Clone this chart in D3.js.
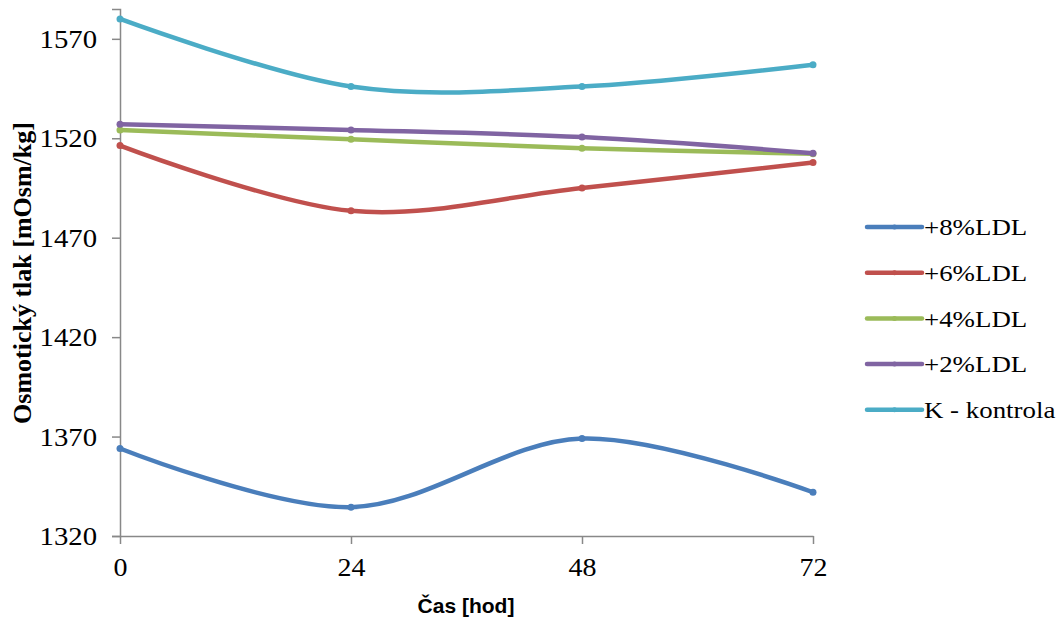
<!DOCTYPE html>
<html>
<head>
<meta charset="utf-8">
<script src="https://cdn.jsdelivr.net/npm/d3@7"></script>
<style>
  body { margin: 0; background: #fff; }
  svg { display: block; }
</style>
</head>
<body>
<div id="chart"></div>
<script>
// data
var hours = [0, 24, 48, 72];
var yTicks = [1320, 1370, 1420, 1470, 1520, 1570];
var seriesNames = ["+8%LDL", "+6%LDL", "+4%LDL", "+2%LDL", "K - kontrola"];
var ldl8 = [1364, 1334.5, 1369, 1342];
var ldl6 = [1516.3, 1483.5, 1495, 1507.8];
var ldl4 = [1524.2, 1519.5, 1515, 1512.2];
var ldl2 = [1527.1, 1524.2, 1520.6, 1512.5];
var kontrola = [1580, 1546, 1546, 1557];
var colors = ["#4a7ebb", "#c0504d", "#9bbb59", "#8064a2", "#4bacc6"];

var allSeries = [ldl8, ldl6, ldl4, ldl2, kontrola];

var W = 1061, H = 621;
var serif = "'Liberation Serif', 'Times New Roman', serif";
var svg = d3.select("#chart").append("svg")
    .attr("width", W)
    .attr("height", H);

// scales
var x = d3.scaleLinear().domain([0, 72]).range([120, 813]);
var y = d3.scaleLinear().domain([1320, 1585]).range([536, 9]);

var axisColor = "#888";

// y axis
var yAxis = svg.append("g")
    .attr("transform", "translate(120,0)")
    .call(d3.axisLeft(y).tickValues(yTicks).tickSize(8).tickFormat(d3.format("d")));
yAxis.select(".domain").attr("stroke", axisColor).attr("stroke-width", 1.5);
yAxis.selectAll(".tick line").attr("stroke", axisColor).attr("stroke-width", 1.5);
// labels a bit wider than the font, like the original
yAxis.selectAll(".tick text")
    .attr("x", 0)
    .attr("transform", "translate(-23,0) scale(1.15,1)")
    .attr("fill", "#000")
    .style("font-family", serif)
    .style("font-size", "25px")
    .attr("dy", "0.34em");

// x axis
var xAxis = svg.append("g")
    .attr("transform", "translate(0,536)")
    .call(d3.axisBottom(x).tickValues(hours).tickSize(8).tickPadding(14).tickSizeOuter(0));
xAxis.select(".domain").attr("stroke", axisColor).attr("stroke-width", 1.5);
xAxis.selectAll(".tick line").attr("stroke", axisColor).attr("stroke-width", 1.5);
xAxis.selectAll(".tick text")
    .attr("transform", "scale(1.12,1)")
    .attr("fill", "#000")
    .style("font-family", serif)
    .style("font-size", "25px");

// axis titles
svg.append("text")
    .attr("x", 466)
    .attr("y", 613)
    .attr("text-anchor", "middle")
    .style("font-family", "'Liberation Sans', Arial, sans-serif")
    .style("font-weight", "bold")
    .style("font-size", "21px")
    .text("Čas [hod]");

svg.append("text")
    .attr("transform", "translate(31,273) rotate(-90)")
    .attr("text-anchor", "middle")
    .style("font-family", serif)
    .style("font-weight", "bold")
    .style("font-size", "26px")
    .text("Osmotický tlak [mOsm/kg]");

// smoothed lines like the spreadsheet did
var line = d3.line()
    .x(function(d, i) { return x(hours[i]); })
    .y(function(d) { return y(d); })
    .curve(d3.curveCardinal.tension(0));

for (let s = 0; s < allSeries.length; s++) {
  svg.append("path")
      .datum(allSeries[s])
      .attr("fill", "none")
      .attr("stroke", colors[s])
      .attr("stroke-width", 4.5)
      .attr("stroke-linecap", "round")
      .attr("d", line);

  svg.append("g")
      .selectAll("circle")
      .data(allSeries[s])
      .enter()
      .append("circle")
      .attr("cx", function(d, i) { return x(hours[i]); })
      .attr("cy", function(d) { return y(d); })
      .attr("r", 3.5)
      .attr("fill", colors[s]);
}

// legend
var legend = svg.append("g").attr("transform", "translate(867,227)");
for (let s = 0; s < seriesNames.length; s++) {
  var row = legend.append("g").attr("transform", "translate(0," + (s * 45.7) + ")");
  row.append("line")
      .attr("x1", 0).attr("x2", 55)
      .attr("y1", 0).attr("y2", 0)
      .attr("stroke", colors[s])
      .attr("stroke-width", 4.5)
      .attr("stroke-linecap", "round");
  row.append("circle")
      .attr("cx", 27.5).attr("cy", 0).attr("r", 2.5)
      .attr("fill", colors[s]);
  row.append("text")
      .attr("transform", "translate(57,0) scale(1.12,1)")
      .attr("dy", "0.34em")
      .style("font-family", serif)
      .style("font-size", "24px")
      .text(seriesNames[s]);
}
</script>
</body>
</html>
